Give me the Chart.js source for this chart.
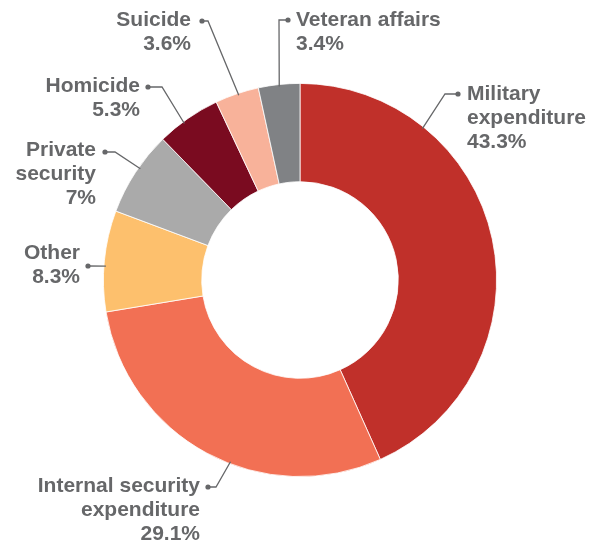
<!DOCTYPE html>
<html>
<head>
<meta charset="utf-8">
<script src="https://cdn.jsdelivr.net/npm/chart.js@4"></script>
<style>
  body { margin: 0; background: #fff; }
  #wrap { width: 595px; height: 547px; position: relative; }
</style>
</head>
<body>
<div id="wrap"><canvas id="canvas"></canvas></div>
<script>
// shares of spending, clockwise from 12 o'clock
let categories = [
  ['Military', 'expenditure'],
  ['Internal security', 'expenditure'],
  ['Other'],
  ['Private', 'security'],
  ['Homicide'],
  ['Suicide'],
  ['Veteran affairs']
];
let values = [43.3, 29.1, 8.3, 7, 5.3, 3.6, 3.4];
let colors = ['#c0302a', '#f27054', '#fdc06d', '#aaaaaa', '#7a0b20', '#f8b29a', '#808285'];

// where each leader line leaves its slice (fraction of the slice span),
// then elbow / dot / text offsets measured from the doughnut centre
let callouts = [
  { at: 0.25, elbow: [145, -186], dot: [158, -186], text: [167, -186], align: 'left' },
  { at: 0.43, elbow: [-84, 207], dot: [-92, 207], text: [-100, 206], align: 'right' },
  { at: 0.45, elbow: [-212, -14], dot: [-212, -14], text: [-220, -27], align: 'right' },
  { at: 0.57, elbow: [-185, -128], dot: [-195, -128], text: [-204, -130], align: 'right' },
  { at: 0.41, elbow: [-138, -193], dot: [-152, -193], text: [-160, -194], align: 'right' },
  { at: 0.53, elbow: [-92, -259], dot: [-98, -259], text: [-109, -260], align: 'right' },
  { at: 0.50, elbow: [-21, -260], dot: [-12, -260], text: [-4, -260], align: 'left' }
];

let grey = '#666769';

let calloutPlugin = {
  id: 'callouts',
  afterDatasetsDraw(chart) {
    let ctx = chart.ctx;
    let meta = chart.getDatasetMeta(0);
    ctx.save();
    meta.data.forEach((arc, i) => {
      let p = arc.getProps(['x', 'y', 'startAngle', 'endAngle', 'outerRadius'], true);
      let c = callouts[i];
      let a = p.startAngle + c.at * (p.endAngle - p.startAngle);
      let r = p.outerRadius - 2;
      let sx = p.x + Math.cos(a) * r;
      let sy = p.y + Math.sin(a) * r;

      ctx.strokeStyle = grey;
      ctx.lineWidth = 1.3;
      ctx.beginPath();
      ctx.moveTo(sx, sy);
      ctx.lineTo(p.x + c.elbow[0], p.y + c.elbow[1]);
      ctx.lineTo(p.x + c.dot[0], p.y + c.dot[1]);
      ctx.stroke();

      ctx.fillStyle = grey;
      ctx.beginPath();
      ctx.arc(p.x + c.dot[0], p.y + c.dot[1], 2.6, 0, Math.PI * 2);
      ctx.fill();

      let lines = categories[i].concat([values[i] + '%']);
      ctx.font = 'bold 21px "Liberation Sans", Arial, sans-serif';
      ctx.textAlign = c.align;
      ctx.textBaseline = 'middle';
      lines.forEach((t, k) => {
        ctx.fillText(t, p.x + c.text[0], p.y + c.text[1] + k * 24);
      });
    });
    ctx.restore();
  }
};

let options = {
  type: 'doughnut',
  data: {
    labels: categories,
    datasets: [{
      data: values,
      backgroundColor: colors,
      borderColor: '#ffffff',
      borderWidth: 0.8
    }]
  },
  options: {
    responsive: true,
    maintainAspectRatio: false,
    animation: false,
    cutout: '50%',
    layout: {
      padding: { left: 103, right: 98, top: 83, bottom: 70 }
    },
    plugins: {
      legend: { display: false },
      tooltip: { enabled: false }
    }
  },
  plugins: [calloutPlugin]
};

let chart = new Chart(document.getElementById('canvas'), options);
</script>
</body>
</html>
